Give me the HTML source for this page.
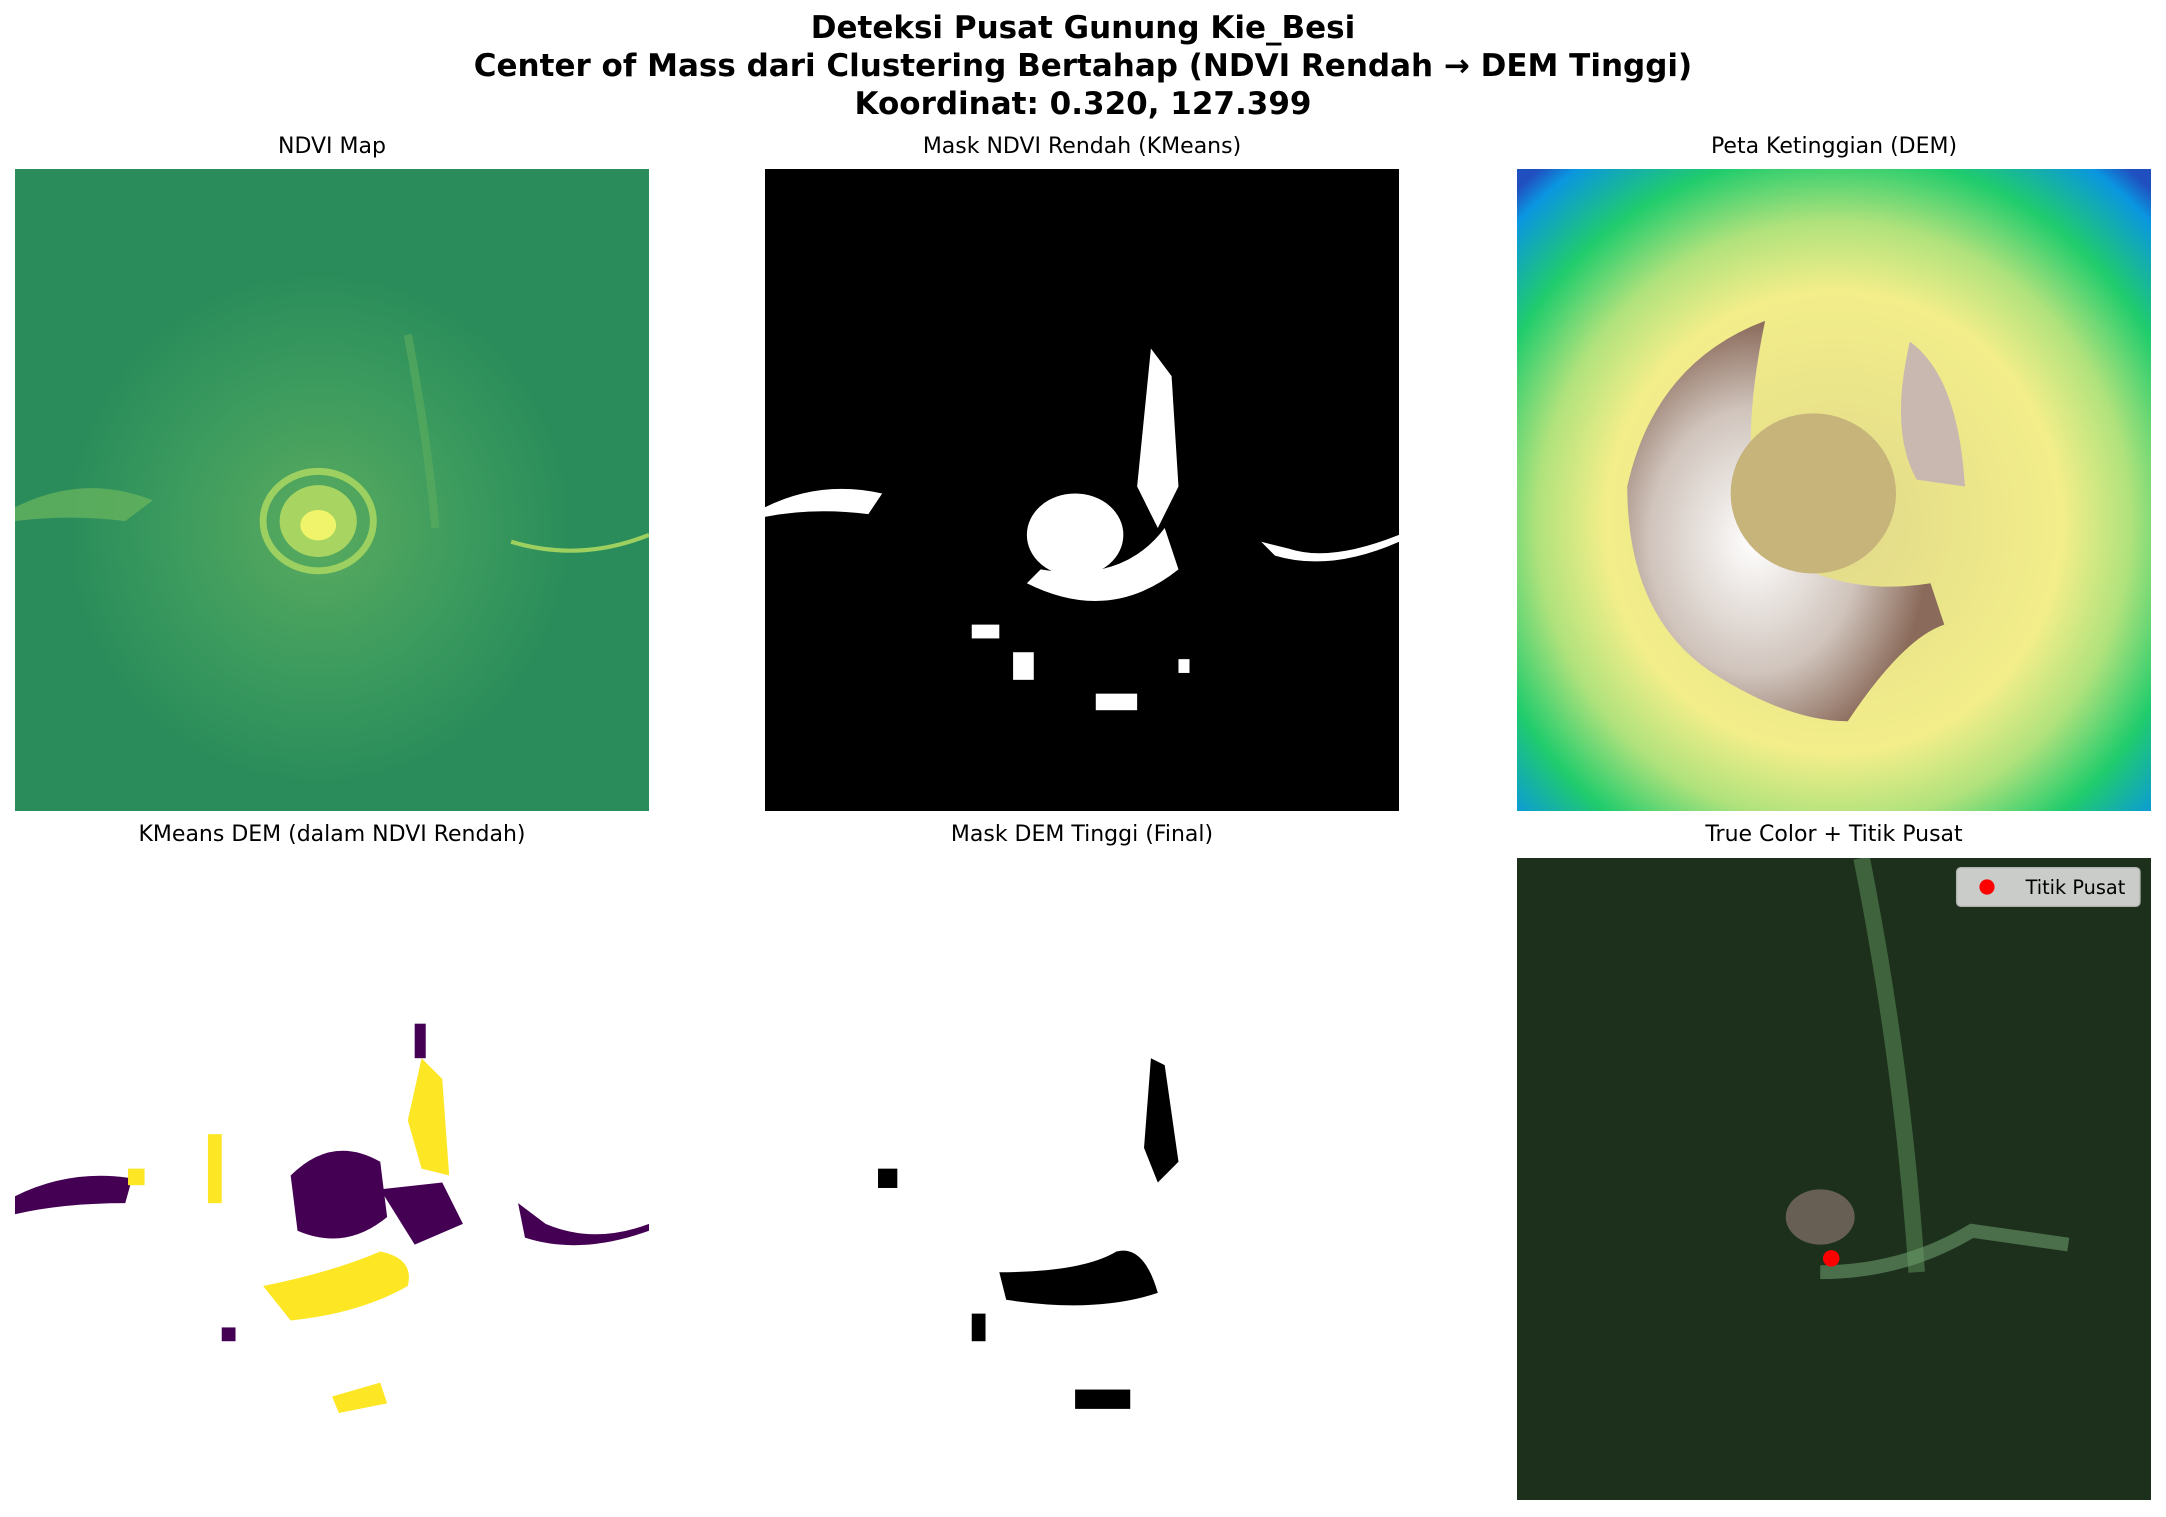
<!DOCTYPE html>
<html><head><meta charset="utf-8"><style>
body{margin:0;width:2166px;height:1517px;background:#fff;position:relative;overflow:hidden;font-family:"Liberation Sans","DejaVu Sans",sans-serif}
.t{position:absolute;left:0;width:2166px;text-align:center;font-weight:bold;font-size:31px;font-family:"DejaVu Sans","Liberation Sans",sans-serif;color:#000}
.st{position:absolute;width:634px;text-align:center;font-size:22px;font-family:"DejaVu Sans","Liberation Sans",sans-serif}
svg{position:absolute}
</style></head><body>
<div class="t" style="top:10px">Deteksi Pusat Gunung Kie_Besi</div>
<div class="t" style="top:48px">Center of Mass dari Clustering Bertahap (NDVI Rendah → DEM Tinggi)</div>
<div class="t" style="top:86px">Koordinat: 0.320, 127.399</div>

<div class="st" style="left:15px;top:134px">NDVI Map</div>
<div class="st" style="left:765px;top:134px">Mask NDVI Rendah (KMeans)</div>
<div class="st" style="left:1517px;top:134px">Peta Ketinggian (DEM)</div>
<div class="st" style="left:15px;top:822px">KMeans DEM (dalam NDVI Rendah)</div>
<div class="st" style="left:765px;top:822px">Mask DEM Tinggi (Final)</div>
<div class="st" style="left:1517px;top:822px">True Color + Titik Pusat</div>

<svg style="left:15px;top:169px" width="634" height="642" viewBox="0 0 460 465" preserveAspectRatio="none">
<defs><radialGradient id="g1" cx="0.48" cy="0.56" r="0.4"><stop offset="0" stop-color="#5aab5e"/><stop offset="0.6" stop-color="#3a9a5e"/><stop offset="1" stop-color="#2a8c5a"/></radialGradient></defs>
<rect width="460" height="465" fill="#2a8c5a"/>
<rect width="460" height="465" fill="url(#g1)"/>
<ellipse cx="220" cy="255" rx="40" ry="36" fill="none" stroke="#9cd060" stroke-width="5"/>
<ellipse cx="220" cy="255" rx="28" ry="26" fill="#a8d562"/>
<ellipse cx="220" cy="258" rx="13" ry="11" fill="#f0f46a"/>
<path d="M0 245 Q50 220 100 240 L80 255 Q40 250 0 255Z" fill="#6cb85e" opacity="0.7"/>
<path d="M360 270 Q410 285 460 265" stroke="#9ed060" stroke-width="3" fill="none"/>
<path d="M285 120 Q300 200 305 260" stroke="#5cae5e" stroke-width="6" fill="none" opacity="0.6"/>
</svg>

<svg style="left:765px;top:169px" width="634" height="642" viewBox="0 0 460 465" preserveAspectRatio="none">
<rect width="460" height="465" fill="#000"/>
<g fill="#fff">
<ellipse cx="225" cy="265" rx="35" ry="30"/>
<path d="M190 300 Q250 330 300 290 L290 260 Q260 300 200 290Z"/>
<path d="M280 130 L295 150 L300 230 L285 260 L270 230Z"/>
<path d="M0 245 Q40 225 85 235 L75 250 Q35 245 0 252Z"/>
<path d="M360 270 L380 275 Q410 285 460 265 L460 270 Q410 292 370 280Z"/>
<rect x="240" y="380" width="30" height="12"/><rect x="150" y="330" width="20" height="10"/><rect x="180" y="350" width="15" height="20"/><rect x="300" y="355" width="8" height="10"/>
</g></svg>

<svg style="left:1517px;top:169px" width="634" height="642" viewBox="0 0 460 465" preserveAspectRatio="none">
<defs><radialGradient id="g3" cx="0.5" cy="0.55" r="0.72"><stop offset="0" stop-color="#e0d88a"/><stop offset="0.5" stop-color="#f3ee8a"/><stop offset="0.65" stop-color="#b0e27c"/><stop offset="0.8" stop-color="#20cc6c"/><stop offset="0.95" stop-color="#0a96e0"/><stop offset="1" stop-color="#2050c0"/></radialGradient>
<radialGradient id="g3b" cx="0.4" cy="0.55" r="0.55"><stop offset="0" stop-color="#ffffff"/><stop offset="0.6" stop-color="#d0c4bc"/><stop offset="1" stop-color="#8a6a5a"/></radialGradient></defs>
<rect width="460" height="465" fill="url(#g3)"/>
<path d="M180 110 Q100 140 80 230 Q80 330 150 370 Q200 400 240 400 Q280 340 310 330 L300 300 Q240 310 190 280 Q155 230 180 110Z" fill="url(#g3b)"/>
<path d="M285 125 Q320 150 325 230 L290 225 Q270 190 285 125Z" fill="#c8b8b0"/>
<ellipse cx="215" cy="235" rx="60" ry="58" fill="#c6b47a"/>
</svg>

<svg style="left:15px;top:858px" width="634" height="642" viewBox="0 0 460 465" preserveAspectRatio="none">
<rect width="460" height="465" fill="#fff"/>
<g fill="#440154">
<path d="M200 230 Q230 200 265 220 L270 260 Q240 285 205 270Z"/>
<path d="M265 240 L310 235 L325 265 L290 280Z"/>
<path d="M0 245 Q40 225 85 232 L80 250 Q35 250 0 258Z"/>
<path d="M365 250 L385 265 Q420 280 460 265 L460 270 Q410 288 370 275Z"/>
<rect x="290" y="120" width="8" height="25"/><rect x="150" y="340" width="10" height="10"/>
</g>
<g fill="#fde725">
<path d="M180 310 Q230 300 265 285 Q290 290 285 310 Q250 330 200 335Z"/>
<path d="M295 145 L310 160 L315 230 L295 225 L285 190Z"/>
<path d="M230 390 L265 380 L270 395 L235 402Z"/>
<rect x="82" y="225" width="12" height="12"/><rect x="140" y="200" width="10" height="50"/>
</g></svg>

<svg style="left:765px;top:858px" width="634" height="642" viewBox="0 0 460 465" preserveAspectRatio="none">
<rect width="460" height="465" fill="#fff"/>
<g fill="#000">
<path d="M170 300 Q230 300 255 285 Q275 280 285 315 Q240 330 175 320Z"/>
<path d="M280 145 L290 150 L300 220 L285 235 L275 210Z"/>
<rect x="82" y="225" width="14" height="14"/><rect x="225" y="385" width="40" height="14"/><rect x="150" y="330" width="10" height="20"/>
</g></svg>

<svg style="left:1517px;top:858px" width="634" height="642" viewBox="0 0 460 465" preserveAspectRatio="none">
<rect width="460" height="465" fill="#1c301c"/>
<path d="M250 0 Q280 150 290 300" stroke="#4f7a4c" stroke-width="12" fill="none" opacity="0.7"/>
<ellipse cx="220" cy="260" rx="25" ry="20" fill="#7a6b62" opacity="0.8"/>
<path d="M220 300 Q280 300 330 270 L400 280" stroke="#6a9a6a" stroke-width="10" fill="none" opacity="0.6"/>
<circle cx="228" cy="290" r="6" fill="#ff0000"/>
<g>
<rect x="319" y="7" width="133" height="28" rx="3" fill="#e8e8e8" opacity="0.85" stroke="#ccc"/>
<circle cx="341" cy="21" r="5.5" fill="#ff0000"/>
<text x="369" y="26" font-size="14" font-family="DejaVu Sans,Liberation Sans,sans-serif" fill="#000">Titik Pusat</text>
</g></svg>
</body></html>
